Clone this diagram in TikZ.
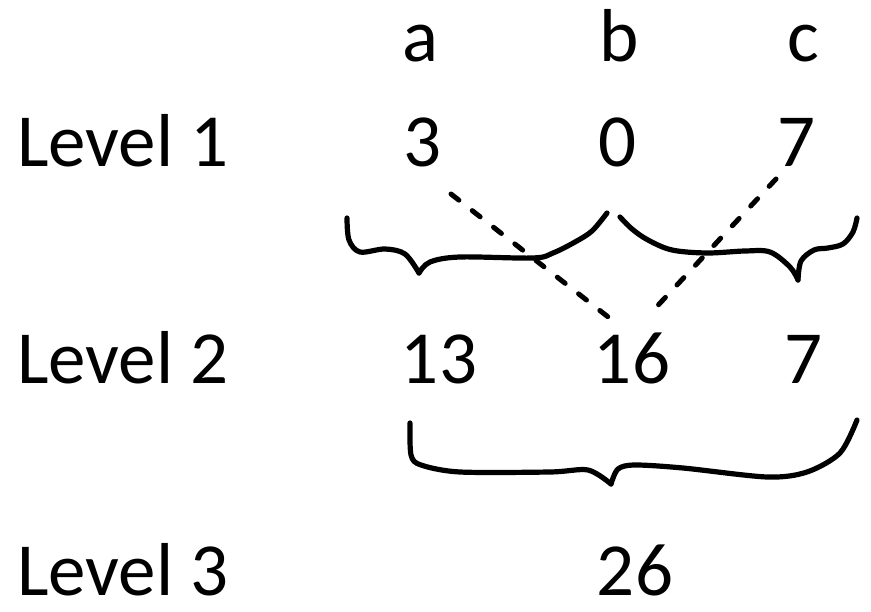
\documentclass[tikz,border=0pt]{standalone}
\usepackage{fontspec}
\setmainfont{Carlito}
\begin{document}
\begin{tikzpicture}[x=1pt,y=-1pt,
  txt/.style={anchor=base,inner sep=0pt,font=\fontsize{75}{90}\selectfont},
  lvl/.style={anchor=base west,inner sep=0pt,font=\fontsize{75}{90}\selectfont},
  brace/.style={line width=5.2pt,line cap=round,line join=round},
  link/.style={line width=5pt,line cap=round,dash pattern=on 10pt off 17pt}]
\useasboundingbox (0,0) rectangle (871,612);

% column headers
\node[txt] (ha) at (420,62) {a};
\node[txt] (hb) at (619,62) {b};
\node[txt] (hc) at (803,62) {c};

% level labels
\node[lvl] (l1) at (17,167) {Level 1};
\node[lvl] (l2) at (17,384) {Level 2};
\node[lvl] (l3) at (17,595) {Level 3};

% values
\node[txt] (a1) at (423,167) {3};
\node[txt] (b1) at (618,167) {0};
\node[txt] (c1) at (796,167) {7};
\node[txt] (a2) at (439,384) {13};
\node[txt] (b2) at (632,384) {16};
\node[txt] (c2) at (803,384) {7};
\node[txt] (s3) at (635,595) {26};

% ends of the dashed links
\coordinate (p3) at (451,194);
\coordinate (q16) at (612,320);
\coordinate (p7) at (776,179);
\coordinate (r16) at (648,316);
\draw[link] (p3) -- (q16);
\draw[link] (p7) -- (r16);

% hand-drawn braces
\draw[brace] plot[smooth,tension=0.55] coordinates {(347,218) (349,240) (360,252) (385,249) (405,254) (419,273)};
\draw[brace] plot[smooth,tension=0.55] coordinates {(419,273) (430,262) (460,257) (533,258) (553,253) (575,242) (592,231) (607,213)};
\draw[brace] plot[smooth,tension=0.55] coordinates {(620,217) (632,229) (648,240) (672,250) (707,253) (745,251) (770,252) (790,267) (798,280)};
\draw[brace] plot[smooth,tension=0.55] coordinates {(798,280) (801,261) (814,250) (828,248) (843,244) (853,232) (857,218)};
\draw[brace] plot[smooth,tension=0.5] coordinates {(410,423) (411,455) (421,465) (460,472) (550,472) (588,470) (611,484)};
\draw[brace] plot[smooth,tension=0.5] coordinates {(611,484) (618,469) (635,465) (683,468) (767,477) (807,472) (840,453) (857,420)};
\end{tikzpicture}
\end{document}
